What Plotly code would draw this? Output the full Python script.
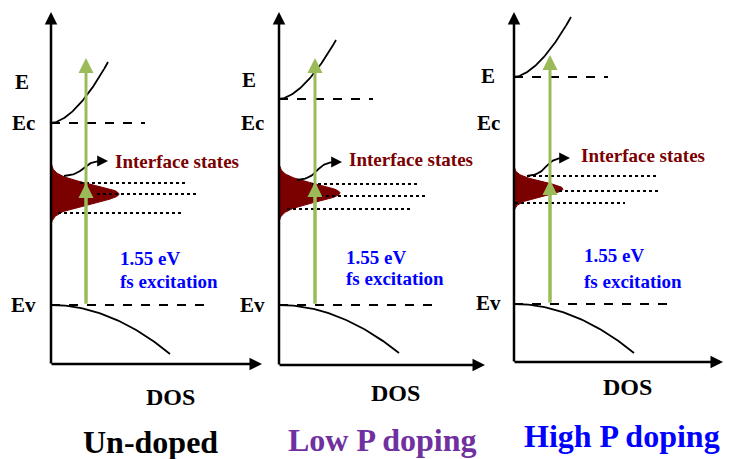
import numpy as np
import plotly.graph_objects as go

# ---------------- data (schematic levels) ----------------
panel_names = ["Un-doped", "Low P doping", "High P doping"]
title_colors = ["#000000", "#7030A0", "#0000FF"]
axis_x = [51, 279, 514]          # energy axis (DOS = 0)
axis_top = [12, 12, 12]
axis_bottom = [364, 365, 362]    # DOS axis
axis_right = [262, 485, 723]
ec_level = [123, 99, 77]         # conduction band edge
ev_level = [305, 305, 304]       # valence band edge
ec_dash_end = [145, 373, 608]
ev_dash_end = [212, 440, 675]
cb_end_x = [108, 336, 571]
cb_end_y = [62, 40, 17]
vb_end_x = [170, 399, 634]
vb_end_y = [354, 353, 353]
pump_x = [86, 315, 550]
pump_top = [58, 58, 55]
pump_mid = [183, 182, 180]
state_center = [194, 193, 189]
state_sigma = [9.5, 9.0, 7.0]
state_amp = [68, 61, 49]
trap_y = [[183, 194, 213], [184, 196, 209], [176, 191, 203]]
trap_x0 = [[80, 97, 58], [312, 320, 287], [527, 553, 515]]
trap_x1 = [[185, 196, 182], [417, 425, 410], [658, 660, 625]]
curl_start = [(64, 176), (297, 180), (527, 176)]
curl_end = [(108, 161), (342, 162), (570, 158)]
iface_text = [(113, 161), (347, 159), (579, 155)]
exc_text = [(118, 258, 281), (344, 257, 278), (582, 255, 281)]
e_label = [(22, 82), (249, 80), (488, 76)]
ec_label = [(23, 123), (252, 123), (488, 123)]
ev_label = [(23, 305), (252, 305), (488, 303)]
dos_label = [(170, 397), (395, 393), (627, 387)]
title_pos = [(150, 442), (382, 440), (622, 436)]

GREEN = "#9BBB59"
DARKRED = "#7B0000"
SERIF = "Liberation Serif"

fig = go.Figure()
ann = []

def arrow(x, y, ax, ay, color="black", width=2.5, head=2, size=1.0):
    ann.append(dict(x=x, y=y, ax=ax, ay=ay, xref="x", yref="y", axref="x", ayref="y",
                    text="", showarrow=True, arrowhead=head, arrowsize=size,
                    arrowwidth=width, arrowcolor=color))

def label(x, y, text, size, color="black", anchor="center"):
    ann.append(dict(x=x, y=y, xref="x", yref="y", text="<b>" + text + "</b>", showarrow=False,
                    xanchor=anchor, yanchor="middle",
                    font=dict(family=SERIF, size=size, color=color)))

t = np.linspace(0, 1, 60)
for i in range(3):
    x0 = axis_x[i]
    # interface states (gaussian DOS)
    ys = np.linspace(state_center[i] - 3.2 * state_sigma[i], state_center[i] + 3.2 * state_sigma[i], 80)
    xs = x0 + state_amp[i] * np.exp(-(ys - state_center[i]) ** 2 / (2 * state_sigma[i] ** 2))
    fig.add_trace(go.Scatter(x=np.r_[x0, xs, x0], y=np.r_[ys[0], ys, ys[-1]], fill="toself",
                             fillcolor=DARKRED, line=dict(color=DARKRED, width=1), mode="lines",
                             hoverinfo="skip", showlegend=False))
    # conduction band DOS
    fig.add_trace(go.Scatter(x=x0 + (cb_end_x[i] - x0) * t,
                             y=ec_level[i] + (cb_end_y[i] - ec_level[i]) * t ** 1.7,
                             mode="lines", line=dict(color="black", width=1.8),
                             hoverinfo="skip", showlegend=False))
    # valence band DOS
    fig.add_trace(go.Scatter(x=x0 + (vb_end_x[i] - x0) * t,
                             y=ev_level[i] + (vb_end_y[i] - ev_level[i]) * t ** 2,
                             mode="lines", line=dict(color="black", width=1.8),
                             hoverinfo="skip", showlegend=False))
    # band edge dashes
    fig.add_trace(go.Scatter(x=[x0, ec_dash_end[i]], y=[ec_level[i]] * 2, mode="lines",
                             line=dict(color="black", width=2, dash="dash"),
                             hoverinfo="skip", showlegend=False))
    fig.add_trace(go.Scatter(x=[x0, ev_dash_end[i]], y=[ev_level[i]] * 2, mode="lines",
                             line=dict(color="black", width=2, dash="dash"),
                             hoverinfo="skip", showlegend=False))
    # dotted trap levels
    for k in range(3):
        fig.add_trace(go.Scatter(x=[trap_x0[i][k], trap_x1[i][k]], y=[trap_y[i][k]] * 2,
                                 mode="lines", line=dict(color="black", width=2, dash="dot"),
                                 hoverinfo="skip", showlegend=False))
    # curled arrow to label
    (sx, sy), (ex, ey) = curl_start[i], curl_end[i]
    u = np.linspace(0, 1, 40)
    p0 = np.array([sx, sy]); p3 = np.array([ex - 4, ey])
    p1 = np.array([sx + 0.55 * (ex - sx), sy - 2])
    p2 = np.array([sx + 0.35 * (ex - sx), ey])
    bz = ((1 - u) ** 3)[:, None] * p0 + (3 * (1 - u) ** 2 * u)[:, None] * p1 + \
         (3 * (1 - u) * u ** 2)[:, None] * p2 + (u ** 3)[:, None] * p3
    fig.add_trace(go.Scatter(x=bz[:, 0], y=bz[:, 1], mode="lines",
                             line=dict(color="black", width=1.8),
                             hoverinfo="skip", showlegend=False))
    arrow(ex, ey, ex - 6, ey, width=1.8, head=2, size=1.2)
    # axes
    arrow(x0, axis_top[i], x0, axis_bottom[i] + 1, width=2.5, head=2, size=1.0)
    arrow(axis_right[i], axis_bottom[i], x0 - 1, axis_bottom[i], width=2.5, head=2, size=1.0)
    # pump arrows
    arrow(pump_x[i], pump_top[i], pump_x[i], ev_level[i], color=GREEN, width=3, head=2, size=1.0)
    arrow(pump_x[i], pump_mid[i], pump_x[i], ev_level[i], color=GREEN, width=3, head=2, size=1.0)
    # texts
    label(iface_text[i][0], iface_text[i][1], "Interface states", 19, DARKRED, "left")
    label(exc_text[i][0], exc_text[i][1], "1.55 eV", 19, "#0000FF", "left")
    label(exc_text[i][0], exc_text[i][2], "fs excitation", 19, "#0000FF", "left")
    label(e_label[i][0], e_label[i][1], "E", 21)
    label(ec_label[i][0], ec_label[i][1], "Ec", 21)
    label(ev_label[i][0], ev_label[i][1], "Ev", 21)
    label(dos_label[i][0], dos_label[i][1], "DOS", 24)
    label(title_pos[i][0], title_pos[i][1], panel_names[i], 32, title_colors[i])

fig.update_layout(
    width=731, height=459, margin=dict(l=0, r=0, t=0, b=0),
    paper_bgcolor="white", plot_bgcolor="white",
    xaxis=dict(range=[0, 731], visible=False, fixedrange=True),
    yaxis=dict(range=[459, 0], visible=False, fixedrange=True),
    annotations=ann, showlegend=False,
)
fig.write_html("out.html")
